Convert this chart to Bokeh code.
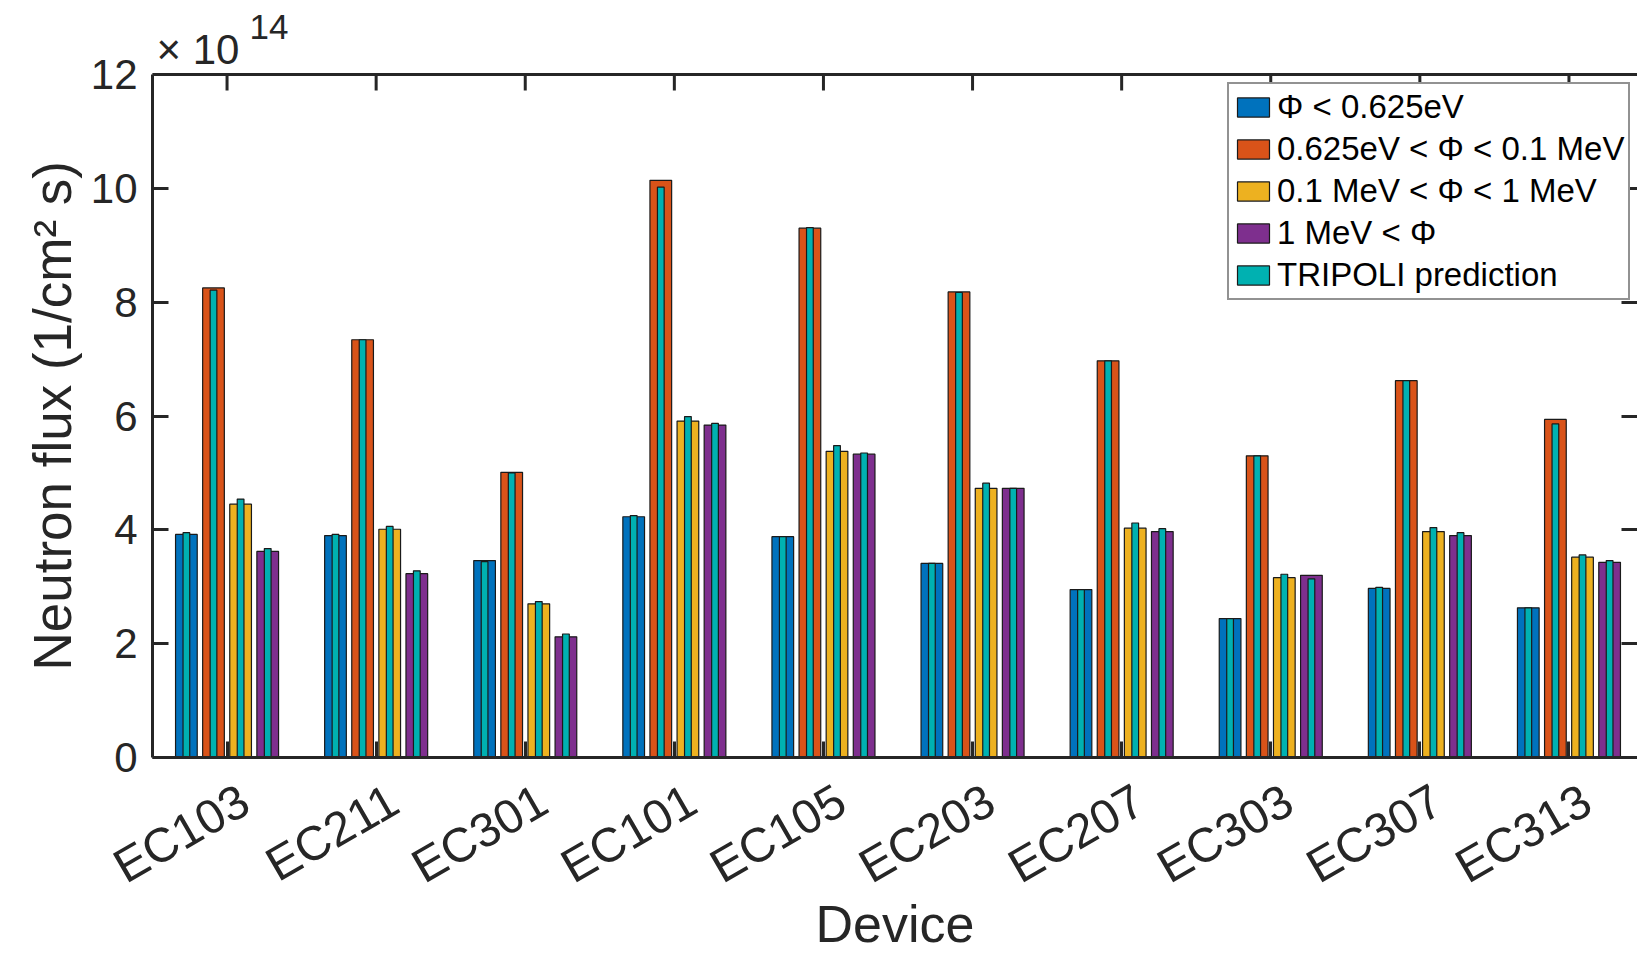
import math
from bokeh.plotting import figure
from bokeh.models import (ColumnDataSource, Range1d, FixedTicker, LinearAxis,
                          Legend, LegendItem, Span)
from bokeh.core.properties import value
from bokeh.embed import file_html
from bokeh.resources import INLINE

# ---------------- data (neutron flux in units of 1e14 1/(cm^2 s)) ----------------
devices = ["EC103", "EC211", "EC301", "EC101", "EC105",
           "EC203", "EC207", "EC303", "EC307", "EC313"]

thermal = [3.92, 3.90, 3.46, 4.23, 3.88, 3.41, 2.95, 2.44, 2.97, 2.63]
epithermal = [8.25, 7.34, 5.01, 10.14, 9.30, 8.18, 6.97, 5.30, 6.62, 5.94]
fast = [4.45, 4.01, 2.70, 5.91, 5.38, 4.73, 4.03, 3.16, 3.97, 3.52]
high = [3.62, 3.23, 2.12, 5.84, 5.33, 4.73, 3.97, 3.20, 3.90, 3.43]

pred_thermal = [3.95, 3.92, 3.44, 4.25, 3.88, 3.41, 2.95, 2.44, 2.99, 2.63]
pred_epithermal = [8.21, 7.34, 5.00, 10.02, 9.31, 8.17, 6.97, 5.30, 6.62, 5.86]
pred_fast = [4.54, 4.06, 2.74, 5.99, 5.48, 4.82, 4.12, 3.22, 4.04, 3.56]
pred_high = [3.67, 3.28, 2.17, 5.87, 5.35, 4.73, 4.02, 3.14, 3.95, 3.46]

series_labels = ["\u03a6 < 0.625eV", "0.625eV < \u03a6 < 0.1 MeV",
                 "0.1 MeV < \u03a6 < 1 MeV", "1 MeV < \u03a6"]
pred_label = "TRIPOLI prediction"
y_label = "Neutron flux (1/cm\u00b2 s)"
x_label = "Device"
y_ticks = [0, 2, 4, 6, 8, 10, 12]
y_max = 12
exponent_base = "\u00d7 10"
exponent_power = "14"

# ---------------- styling / layout ----------------
colors = ["#0072BD", "#D95319", "#EDB120", "#7E2F8E"]
pred_color = "#00B1B1"
axis_color = "#262626"
FONT = "Liberation Sans"

W, H = 1637, 956
LEFT, BOTTOM = 152, 199
AXES_TOP = 74            # pixel row of the top of the axes box
PX_PER_CAT = 149.0
TICK_LEN = 16

frame_h = H - BOTTOM
px_per_unit = (frame_h - AXES_TOP) / y_max
y_end = frame_h / px_per_unit

measured = [thermal, epithermal, fast, high]
predicted = [pred_thermal, pred_epithermal, pred_fast, pred_high]

n_series = len(measured)
group_w = min(0.8, n_series / (n_series + 1.5))
slot = group_w / n_series
bar_w = slot * 0.8
pred_w = bar_w * 0.31
offsets = [(k - (n_series - 1) / 2) * slot for k in range(n_series)]

x_pos = list(range(1, len(devices) + 1))

p = figure(width=W, height=H,
           x_range=Range1d(0.5, 0.5 + (W - LEFT - 1) / PX_PER_CAT),
           y_range=Range1d(0, y_end),
           output_backend="svg", toolbar_location=None,
           min_border_left=LEFT, min_border_top=0,
           min_border_bottom=BOTTOM, min_border_right=0)
p.grid.visible = False
p.outline_line_color = None
p.background_fill_color = "white"
p.border_fill_color = "white"

legend_items = []
pred_x, pred_top = [], []
for k in range(n_series):
    xs = [x + offsets[k] for x in x_pos]
    src = ColumnDataSource(dict(x=xs, top=measured[k]))
    r = p.vbar(x="x", top="top", width=bar_w, bottom=0, source=src,
               fill_color=colors[k], line_color="#1a1a1a", line_width=1.2)
    legend_items.append(LegendItem(label=series_labels[k], renderers=[r]))
    pred_x.extend(xs)
    pred_top.extend(predicted[k])

psrc = ColumnDataSource(dict(x=pred_x, top=pred_top))
rp = p.vbar(x="x", top="top", width=pred_w, bottom=0, source=psrc,
            fill_color=pred_color, line_color="#1a1a1a", line_width=1.2)
legend_items.append(LegendItem(label=pred_label, renderers=[rp]))

# top edge of the axes box and its inward ticks
p.add_layout(Span(location=y_max, dimension="width",
                  line_color=axis_color, line_width=3))
tick_dy = TICK_LEN / px_per_unit
p.segment(x0=x_pos, y0=[y_max] * len(x_pos), x1=x_pos,
          y1=[y_max - tick_dy] * len(x_pos),
          line_color=axis_color, line_width=3)

# exponent (x 10^14) above the axes box
p.text(x=[0.5], y=[y_max], text=[exponent_base], x_offset=4, y_offset=-25,
       text_font=value(FONT), text_font_size="42px", text_color=axis_color,
       text_baseline="alphabetic", text_align="left")
p.text(x=[0.5], y=[y_max], text=[exponent_power], x_offset=97, y_offset=-48,
       text_font=value(FONT), text_font_size="35px", text_color=axis_color,
       text_baseline="alphabetic", text_align="left")

YTICK_FS = "42px"
XTICK_FS = "48px"
LABEL_FS_Y = "53px"
LABEL_FS_X = "52px"

def style_ticks(ax):
    ax.axis_line_color = axis_color
    ax.axis_line_width = 3
    ax.major_tick_line_color = axis_color
    ax.major_tick_line_width = 3
    ax.major_tick_in = TICK_LEN
    ax.major_tick_out = 0
    ax.minor_tick_line_color = None

# bottom axis: line + inward ticks (no labels)
xa = p.xaxis[0]
xa.ticker = FixedTicker(ticks=x_pos)
xa.major_label_overrides = {x: "" for x in x_pos}
xa.major_label_text_font_size = "1px"
xa.major_label_standoff = 0
style_ticks(xa)

# second bottom axis carrying the rotated device names and the axis title
label_shift = 0.12
lab_ticks = [x + label_shift for x in x_pos]
xl = LinearAxis(ticker=FixedTicker(ticks=lab_ticks),
                major_label_overrides={t: d for t, d in zip(lab_ticks, devices)},
                major_label_orientation=math.pi / 6,
                axis_line_color=None, major_tick_line_color=None,
                minor_tick_line_color=None,
                major_label_text_font=FONT, major_label_text_font_size=XTICK_FS,
                major_label_text_color=axis_color, major_label_standoff=33,
                axis_label=x_label, axis_label_text_font=FONT,
                axis_label_text_font_size=LABEL_FS_X,
                axis_label_text_font_style="normal",
                axis_label_text_color=axis_color, axis_label_standoff=-24)
p.add_layout(xl, "below")

# left axis, limited to the axes box; the label is centred on the frame, so
# trailing no-break spaces move the visible text down to the box centre
ya = p.yaxis[0]
ya.ticker = FixedTicker(ticks=y_ticks)
ya.bounds = (0, y_max)
ya.axis_label = y_label + "\u00a0" * 5
style_ticks(ya)
ya.major_label_text_font = FONT
ya.major_label_text_font_size = YTICK_FS
ya.major_label_text_color = axis_color
ya.axis_label_text_font = FONT
ya.axis_label_text_font_size = LABEL_FS_Y
ya.axis_label_text_font_style = "normal"
ya.axis_label_text_color = axis_color
ya.major_label_standoff = 15
ya.axis_label_standoff = 6

# right axis (ticks only, its line lies beyond the picture)
right_ax = LinearAxis(ticker=FixedTicker(ticks=y_ticks), bounds=(0, y_max),
                      major_label_overrides={t: "" for t in y_ticks},
                      major_label_text_font_size="1px", major_label_standoff=0)
style_ticks(right_ax)
right_ax.axis_line_color = None
p.add_layout(right_ax, "right")

legend = Legend(items=legend_items, location=(1075, 457),
                padding=4, spacing=4,
                glyph_width=40, glyph_height=24, label_standoff=4,
                label_text_font=FONT, label_text_font_size="33px",
                label_text_color="black",
                border_line_color=axis_color, border_line_width=2.5,
                background_fill_color="white", background_fill_alpha=1.0)
p.add_layout(legend)

open("out.html", "w").write(file_html(p, INLINE))
